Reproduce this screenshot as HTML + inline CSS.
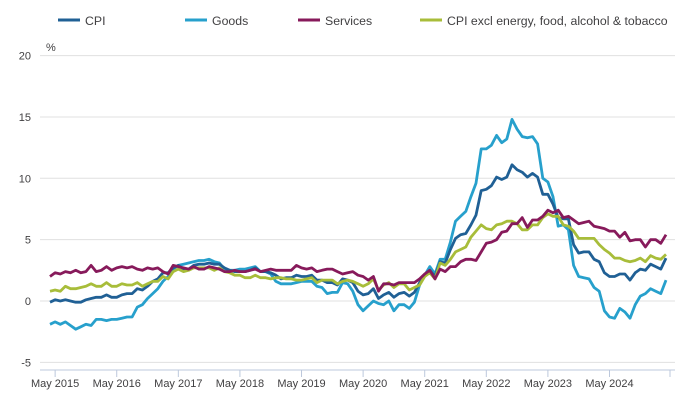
<!DOCTYPE html>
<html><head><meta charset="utf-8"><style>
body{margin:0;background:#fff;font-family:"Liberation Sans",sans-serif;}
svg text{font-family:"Liberation Sans",sans-serif;fill:#414042;}
</style></head><body>
<svg id="c" width="689" height="407">
<g id="legend"></g>
<g id="grid"></g>
<g id="axes"></g>
<g id="lines"></g>
</svg>
<script>
const seriesNames=["CPI","Goods","Services","CPI excl energy, food, alcohol & tobacco"];
const seriesColors=["#206095","#27a0cc","#871a5b","#a8bd3a"];
const yTicks=[20,15,10,5,0,-5];
const xTickLabels=["May 2015","May 2016","May 2017","May 2018","May 2019","May 2020","May 2021","May 2022","May 2023","May 2024"];
const cpi=[-0.1,0.1,0.0,0.1,0.0,-0.1,-0.1,0.1,0.2,
0.3,0.3,0.5,0.3,0.3,0.5,0.6,0.6,1.0,0.9,1.2,1.6,
1.8,2.3,2.3,2.7,2.9,2.6,2.6,2.9,3.0,3.0,3.1,3.0,
3.0,2.7,2.5,2.4,2.4,2.4,2.5,2.7,2.4,2.4,2.3,2.1,
1.8,1.9,1.9,2.1,2.0,2.0,2.1,1.7,1.7,1.5,1.5,1.3,
1.8,1.7,1.5,0.8,0.5,0.6,1.0,0.2,0.5,0.7,0.3,0.6,
0.7,0.4,0.7,1.5,2.1,2.5,2.0,3.2,3.1,4.2,5.1,5.4,
5.5,6.2,7.0,9.0,9.1,9.4,10.1,9.9,10.1,11.1,10.7,10.5,
10.1,10.4,10.1,8.7,8.7,7.9,6.8,6.7,6.7,4.6,3.9,4.0,
4.0,3.4,3.2,2.3,2.0,2.0,2.2,2.2,1.7,2.3,2.6,2.5,
3.0,2.8,2.6,3.5];
const goods=[-1.9,-1.7,-1.9,-1.7,-2.0,-2.3,-2.1,-1.9,-2.0,
-1.5,-1.5,-1.6,-1.5,-1.5,-1.4,-1.3,-1.3,-0.5,-0.3,0.2,0.6,
1.0,1.6,2.0,2.6,2.9,3.0,3.1,3.2,3.3,3.3,3.4,3.2,
3.1,2.6,2.5,2.5,2.6,2.6,2.7,2.8,2.4,2.4,2.2,1.6,
1.4,1.4,1.4,1.5,1.6,1.6,1.6,1.2,1.1,0.6,0.7,0.7,
1.5,1.4,0.8,-0.3,-0.8,-0.4,0.0,-0.2,-0.3,0.0,-0.8,-0.3,
-0.3,-0.6,-0.1,1.3,2.1,2.8,2.2,3.4,3.4,4.8,6.5,6.9,
7.3,8.5,9.6,12.4,12.4,12.7,13.5,12.9,13.2,14.8,14.0,13.4,
13.3,13.4,12.8,10.0,9.7,8.5,6.1,6.2,5.8,2.9,2.0,1.9,
1.8,1.1,0.8,-0.8,-1.3,-1.4,-0.6,-0.9,-1.4,-0.3,0.4,0.6,
1.0,0.8,0.6,1.7];
const services=[2.0,2.3,2.2,2.4,2.3,2.5,2.3,2.4,2.9,
2.4,2.5,2.8,2.5,2.7,2.8,2.7,2.8,2.6,2.5,2.7,2.6,
2.7,2.4,2.2,2.9,2.8,2.7,2.6,2.8,2.6,2.6,2.8,2.7,
2.6,2.4,2.4,2.5,2.4,2.4,2.5,2.6,2.4,2.5,2.6,2.5,
2.5,2.5,2.5,2.9,2.7,2.6,2.7,2.4,2.5,2.6,2.6,2.4,
2.2,2.3,2.4,2.1,2.0,1.7,2.0,0.8,1.4,1.4,1.3,1.5,
1.5,1.5,1.5,1.8,2.2,2.5,1.8,2.6,2.4,2.8,2.8,3.2,
3.4,3.4,3.3,4.0,4.7,4.8,5.0,5.6,5.7,6.3,6.3,6.8,
6.0,6.6,6.6,6.9,7.4,7.2,7.4,6.8,6.9,6.6,6.3,6.4,
6.5,6.1,6.0,5.9,5.7,5.7,5.2,5.6,4.9,5.0,5.0,4.4,
5.0,5.0,4.7,5.4];
const core=[0.8,0.9,0.8,1.2,1.0,1.0,1.1,1.2,1.4,
1.2,1.2,1.5,1.2,1.2,1.4,1.3,1.3,1.5,1.2,1.4,1.6,
1.6,2.0,1.8,2.4,2.6,2.4,2.5,2.7,2.7,2.7,2.7,2.5,
2.7,2.4,2.3,2.1,2.1,1.9,1.9,2.1,1.9,1.9,1.8,1.9,
1.9,1.8,1.8,1.7,1.7,1.8,1.9,1.5,1.7,1.7,1.7,1.4,
1.6,1.7,1.6,1.4,1.2,1.4,1.8,0.9,1.3,1.5,1.1,1.4,
1.4,0.9,1.1,1.3,2.0,2.3,1.8,3.1,2.9,3.4,4.0,4.2,
4.4,5.2,5.7,6.2,5.9,5.8,6.2,6.3,6.5,6.5,6.3,5.8,
5.8,6.2,6.2,6.8,7.1,6.9,6.9,6.2,6.1,5.7,5.1,5.1,
5.1,5.1,4.6,4.2,3.9,3.5,3.5,3.3,3.2,3.3,3.5,3.2,
3.7,3.5,3.4,3.8];
const allSeries=[cpi,goods,services,core];

const NS="http://www.w3.org/2000/svg";
const x0=50,dx=5.133,yZero=301,yScale=12.27;
function xPos(i){return x0+i*dx;}
function yPos(v){return yZero-v*yScale;}
function mk(tag,attrs,parent){const e=document.createElementNS(NS,tag);for(const k in attrs)e.setAttribute(k,attrs[k]);parent.appendChild(e);return e;}
const grid=document.getElementById('grid'),axes=document.getElementById('axes'),lines=document.getElementById('lines'),legend=document.getElementById('legend');

yTicks.forEach(t=>{
  const l=mk('line',{x1:40,x2:675,y1:yPos(t),y2:yPos(t),stroke:'#e0e0e0','stroke-width':1},grid);
  
  
  const tx=mk('text',{x:31,y:yPos(t)+4,'text-anchor':'end','font-size':11},axes);
  tx.textContent=t;
  
  
});
const unit=mk('text',{x:46,y:51,'font-size':11},axes);
unit.textContent='%';


const xa=mk('line',{x1:40,x2:675,y1:370,y2:370,stroke:'#bcc8dc','stroke-width':1},axes);


xTickLabels.forEach((lab,k)=>{
  const x=xPos(1+12*k);
  const tk=mk('line',{x1:x,x2:x,y1:370,y2:377,stroke:'#bcc8dc','stroke-width':1},axes);
  
  
  const tx=mk('text',{x:x,y:387,'text-anchor':'middle','font-size':11},axes);
  tx.textContent=lab;
  
  
});
const endTick=mk('line',{x1:670,x2:670,y1:370,y2:377,stroke:'#bcc8dc','stroke-width':1},axes);



[1,0,3,2].forEach(s=>{
  const d=allSeries[s].map((v,i)=>(i?'L':'M')+xPos(i).toFixed(1)+','+yPos(v).toFixed(1)).join('');
  const p=mk('path',{d:d,fill:'none',stroke:seriesColors[s],'stroke-width':2.8,'stroke-linejoin':'round'},lines);
  
  
});

const legX=[58,185,298,420];
seriesNames.forEach((n,s)=>{
  const l=mk('line',{x1:legX[s],x2:legX[s]+22,y1:20,y2:20,stroke:seriesColors[s],'stroke-width':3},legend);
  
  
  const t=mk('text',{x:legX[s]+27,y:25,'font-size':12.3},legend);
  t.textContent=n;
  
  
});
</script>
</body></html>
